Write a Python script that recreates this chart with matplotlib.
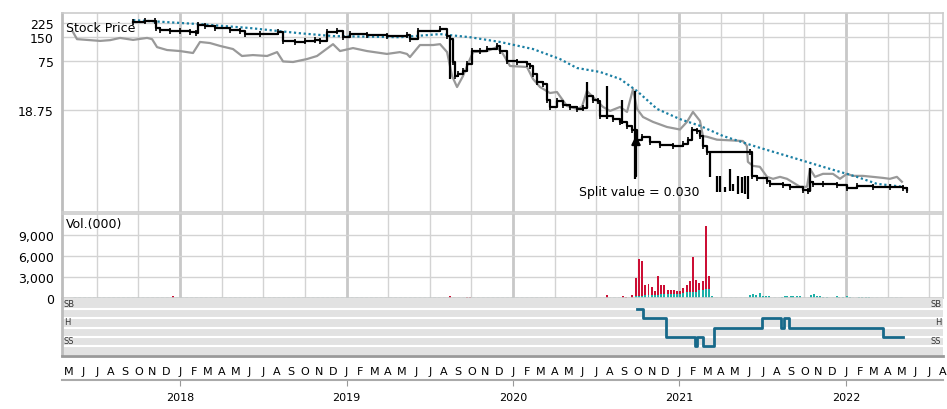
import numpy as np
import matplotlib
matplotlib.use("Agg")
import matplotlib.pyplot as plt
from matplotlib.ticker import NullLocator, FuncFormatter

# x values are decimal years
# black price line (weekly close, step)
price_t = [2017.718, 2017.790, 2017.850, 2017.856, 2017.880, 2017.940, 2018.000, 2018.060, 2018.096,
           2018.108, 2018.150, 2018.210, 2018.300, 2018.360, 2018.390, 2018.480, 2018.589, 2018.619,
           2018.691, 2018.751, 2018.811, 2018.841, 2018.883, 2018.943, 2018.979, 2019.021, 2019.123,
           2019.243, 2019.363, 2019.381, 2019.429, 2019.562, 2019.604, 2019.622, 2019.640, 2019.652,
           2019.670, 2019.700, 2019.724, 2019.754, 2019.802, 2019.844, 2019.904, 2019.922, 2019.964,
           2020.024, 2020.084, 2020.102, 2020.120, 2020.144, 2020.180, 2020.204, 2020.222, 2020.264,
           2020.300, 2020.342, 2020.384, 2020.420, 2020.444, 2020.480, 2020.511, 2020.523, 2020.565,
           2020.601, 2020.643, 2020.685, 2020.715, 2020.745, 2020.775, 2020.823, 2020.883, 2020.961,
           2021.021, 2021.051, 2021.075, 2021.105, 2021.123, 2021.141, 2021.165, 2021.423, 2021.435,
           2021.465, 2021.526, 2021.544, 2021.622, 2021.664, 2021.742, 2021.772, 2021.784, 2021.802,
           2021.862, 2021.946, 2022.006, 2022.066, 2022.162, 2022.264, 2022.342, 2022.366]
price_v = [232, 239, 239, 195, 184, 179, 179, 174, 168,
           212, 206, 195, 184, 179, 164, 164, 174, 135,
           131, 135, 138, 135, 174, 179, 150, 164, 160,
           155, 160, 142, 179, 189, 155, 142, 73.8, 49.5,
           52.8, 57.1, 69.8, 101, 101, 107, 117, 101, 75,
           73.8, 69.8, 65.9, 52.8, 41.7, 39.2, 25.2, 20.4, 24.2,
           21.6, 20.4, 19.3, 19.8, 27.9, 25.2, 24.2, 15.8, 15.8,
           14.4, 13.3, 11.9, 10.7, 8.0, 8.7, 7.5, 6.9, 6.7,
           7.1, 8.0, 10.7, 10.3, 8.9, 6.7, 5.64, 5.64, 2.84,
           2.68, 2.47, 2.26, 2.20, 2.08, 1.91, 1.85, 2.40, 2.26,
           2.26, 2.20, 2.02, 2.14, 2.08, 2.08, 2.02, 1.91]

# high/low spikes
spike_t = [2019.622, 2020.444, 2020.565, 2020.655, 2020.733, 2021.183, 2021.225, 2021.243, 2021.273,
           2021.303, 2021.321, 2021.351, 2021.375, 2021.393, 2021.411, 2021.784]
spike_hi = [142, 41.7, 37.2, 25.2, 32.2, 5.64, 2.84, 2.84, 2.08, 3.47, 2.26, 2.84, 2.76, 2.84, 2.84, 3.57]
spike_lo = [45.5, 19.8, 14.4, 12.4, 2.61, 2.76, 1.80, 1.80, 1.80, 1.85, 1.85, 1.70, 1.75, 1.70, 1.47, 1.85]

# gray comparison line
gray_t = [2017.357, 2017.381, 2017.459, 2017.520, 2017.580, 2017.640, 2017.718, 2017.802, 2017.832,
          2017.862, 2017.922, 2018.000, 2018.078, 2018.120, 2018.180, 2018.240, 2018.318, 2018.372,
          2018.438, 2018.523, 2018.583, 2018.619, 2018.679, 2018.763, 2018.823, 2018.919, 2018.961,
          2019.039, 2019.123, 2019.243, 2019.321, 2019.363, 2019.381, 2019.441, 2019.520, 2019.562,
          2019.604, 2019.634, 2019.664, 2019.700, 2019.724, 2019.760, 2019.844, 2019.904, 2019.940,
          2019.982, 2020.084, 2020.120, 2020.162, 2020.222, 2020.264, 2020.324, 2020.384, 2020.414,
          2020.444, 2020.505, 2020.541, 2020.583, 2020.643, 2020.685, 2020.721, 2020.745, 2020.781,
          2020.841, 2020.925, 2021.003, 2021.045, 2021.081, 2021.123, 2021.141, 2021.165, 2021.225,
          2021.381, 2021.405, 2021.411, 2021.441, 2021.483, 2021.526, 2021.562, 2021.604, 2021.646,
          2021.724, 2021.766, 2021.784, 2021.814, 2021.862, 2021.922, 2021.964, 2022.006, 2022.042,
          2022.102, 2022.162, 2022.222, 2022.264, 2022.306, 2022.336]
gray_v = [174, 142, 138, 135, 138, 147, 139, 147, 142,
          113, 104, 101, 95.5, 131, 127, 117, 107, 87.7,
          90, 87.7, 98, 75, 73.8, 80.4, 87.7, 123, 101,
          110, 101, 93, 98, 93, 85, 120, 120, 123,
          98, 49.5, 36.1, 49.5, 65.9, 98, 101, 113, 93,
          65.9, 64, 45.5, 36.1, 30.4, 31.3, 21, 19.3, 20.4,
          32.2, 24.2, 20.4, 18.2, 20.4, 17.7, 34, 19.3, 15.3,
          13.3, 11.5, 10.7, 13.3, 17.7, 13.7, 8.9, 8.7, 8.0,
          7.7, 6.7, 4.24, 3.78, 3.68, 2.76, 2.61, 2.76, 2.61,
          2.08, 2.08, 3.47, 2.76, 3.01, 3.01, 2.61, 3.01, 2.84,
          2.84, 2.76, 2.68, 2.61, 2.76, 2.40]

# dotted moving average
avg_t = [2017.718, 2018.120, 2018.420, 2018.721, 2018.919, 2019.321, 2019.562, 2019.742, 2019.922,
         2020.120, 2020.282, 2020.384, 2020.523, 2020.643, 2020.745, 2020.865, 2021.003, 2021.123,
         2021.261, 2021.465, 2021.664, 2021.862, 2022.066, 2022.186, 2022.342]
avg_v = [245, 218, 195, 168, 155, 150, 164, 150, 131,
         107, 80.4, 62.2, 55.5, 45.5, 32.2, 19.3, 14.4, 11.9,
         8.9, 6.5, 4.9, 3.68, 2.76, 2.26, 2.08]

# weekly volume (000), stacked: teal below, red on top
vol_t = [2017.958, 2019.622, 2019.724, 2019.743, 2020.563, 2020.659, 2020.677, 2020.713,
         2020.737, 2020.756, 2020.775, 2020.794, 2020.814, 2020.833, 2020.852, 2020.871, 2020.890,
         2020.909, 2020.929, 2020.948, 2020.967, 2020.986, 2021.005, 2021.024, 2021.044, 2021.063,
         2021.082, 2021.101, 2021.120, 2021.139, 2021.159, 2021.178, 2021.197,
         2021.423, 2021.440, 2021.459, 2021.483, 2021.500, 2021.519, 2021.537, 2021.614, 2021.632,
         2021.647, 2021.668, 2021.684, 2021.704, 2021.724, 2021.790, 2021.808, 2021.826, 2021.844,
         2021.862, 2021.884, 2021.944, 2021.960, 2021.984, 2022.004, 2022.024, 2022.080, 2022.098,
         2022.118, 2022.136]
vol_teal = [0, 0, 0, 0, 0, 0, 0, 0,
            240, 285, 285, 380, 380, 380, 480, 480, 520,
            620, 620, 620, 620, 620, 620, 760, 860, 860,
            860, 860, 1100, 1190, 1330, 1330, 290,
            476, 570, 380, 760, 333, 333, 333, 143, 240,
            333, 240, 240, 240, 333, 476, 620, 333, 240,
            190, 143, 285, 190, 190, 285, 143, 190, 190,
            190, 190]
vol_red = [300, 250, 200, 200, 480, 330, 190, 480,
           2660, 5340, 5050, 1520, 1670, 1140, 570, 2710, 1290,
           1280, 570, 570, 570, 430, 330, 670, 1040, 1620,
           5000, 1660, 1040, 1190, 8960, 1810, 0,
           0, 0, 0, 0, 0, 0, 0, 0, 0,
           0, 0, 0, 0, 0, 0, 0, 0, 0,
           0, 0, 0, 0, 0, 0, 0, 0, 0,
           0, 0]

# rating steps (5=SB ... 1=SS)
rate_t = [2020.745, 2020.781, 2020.919, 2021.093, 2021.105, 2021.141, 2021.207, 2021.495,
          2021.610, 2021.628, 2021.658, 2022.222, 2022.342]
rate_v = [5, 4, 2, 1, 2, 1, 3, 4, 3, 4, 3, 2, 2]
rate_names = {5: "SB", 3: "H", 1: "SS"}

price_ticks = [18.75, 75, 150, 225]
vol_ticks = [0, 3000, 6000, 9000]
years = [2018, 2019, 2020, 2021, 2022]
month_letters = "JFMAMJJASOND"

x0, x1 = 2017.291, 2022.583
W, H = 947, 410
grid_c = "#d3d3d3"
teal = "#1cb0a8"
red = "#cc0f35"
blue = "#1a7fa3"
line_blue = "#17698a"

fig = plt.figure(figsize=(W / 100, H / 100), dpi=100)


def box(top, bottom):
    return [62 / W, (H - bottom) / H, 881 / W, (bottom - top) / H]


def vgrid(ax):
    for q in np.arange(2017.5, 2022.6, 0.25):
        if abs(q - round(q)) < 1e-6:
            ax.axvline(q, color="#c8c8c8", lw=2, zorder=0)
        else:
            ax.axvline(q, color=grid_c, lw=1, zorder=0)


def frame(ax):
    for s in ax.spines.values():
        s.set_color("#cccccc")
        s.set_linewidth(1.2)
    ax.spines["left"].set_color("#bdbdbd")
    ax.spines["left"].set_linewidth(2)


# price panel
ax = fig.add_axes(box(14, 213))
ax.set_yscale("log")
ax.set_xlim(x0, x1)
ax.set_ylim(1.01, 300)
vgrid(ax)
for v in price_ticks:
    ax.axhline(v, color=grid_c, lw=1, zorder=0)
ax.plot(gray_t, gray_v, color="#999999", lw=1.6, zorder=2)
ax.plot(avg_t, avg_v, color=blue, lw=1.6, ls=(0, (1, 1.2)), zorder=3)
ax.vlines(spike_t, spike_lo, spike_hi, color="black", lw=1.6, zorder=4)
ax.plot(price_t, price_v, color="black", lw=1.6, drawstyle="steps-post",
        marker="|", ms=4, mew=1.2, zorder=5)
ax.annotate("", xy=(2020.739, 9.8), xytext=(2020.739, 2.6),
            arrowprops=dict(arrowstyle="-|>", color="black", lw=1.6, mutation_scale=13), zorder=6)
ax.text(2020.396, 1.80, "Split value = 0.030", fontsize=9, va="center", ha="left")
ax.text(0.005, 0.96, "Stock Price", transform=ax.transAxes, fontsize=9, va="top", ha="left")
ax.yaxis.set_minor_locator(NullLocator())
ax.set_yticks(price_ticks)
ax.set_yticklabels(["18.75", "75", "150", "225"])
ax.set_xticks([])
ax.tick_params(axis="y", length=0, labelsize=9, pad=6)
frame(ax)

# volume panel
av = fig.add_axes(box(215, 299))
av.set_xlim(x0, x1)
av.set_ylim(0, 12000)
vgrid(av)
for v in vol_ticks[1:]:
    av.axhline(v, color=grid_c, lw=1, zorder=0)
av.hlines(40, 2017.36, 2022.35, color=teal, lw=1, ls=(0, (2, 1.5)), zorder=1)
av.bar(vol_t, vol_teal, width=0.012, color=teal, zorder=2)
av.bar(vol_t, vol_red, width=0.012, bottom=vol_teal, color=red, zorder=2)
av.text(0.005, 0.96, "Vol.(000)", transform=av.transAxes, fontsize=9, va="top", ha="left")
av.set_yticks(vol_ticks)
av.yaxis.set_major_formatter(FuncFormatter(lambda v, p: f"{v:,.0f}"))
av.set_xticks([])
av.tick_params(axis="y", length=0, labelsize=9, pad=6)
frame(av)

# rating panel
ar = fig.add_axes(box(299, 356))
ar.set_xlim(x0, x1)
ar.set_ylim(0.03, 6.19)
ar.set_facecolor("#e2e2e2")
for lv in [1, 2, 3, 4, 5]:
    ar.axhline(lv, color="white", lw=1.5, zorder=1)
ar.plot(rate_t, rate_v, color=line_blue, lw=2, drawstyle="steps-post", zorder=3)
for lv, name in rate_names.items():
    ar.text(0.002, lv + 0.12, name, transform=ar.get_yaxis_transform(), fontsize=6,
            va="bottom", ha="left", color="#333333")
    ar.text(0.998, lv + 0.12, name, transform=ar.get_yaxis_transform(), fontsize=6,
            va="bottom", ha="right", color="#333333")
ar.set_xticks([])
ar.set_yticks([])
for s in ar.spines.values():
    s.set_visible(False)
ar.spines["left"].set_visible(True)
ar.spines["left"].set_color("#bdbdbd")
ar.spines["left"].set_linewidth(2)

# month / year axis
at = fig.add_axes(box(357, 381))
at.set_xlim(x0, x1)
at.set_ylim(0, 1)
for s in ["left", "right"]:
    at.spines[s].set_visible(False)
at.spines["top"].set_color("#999999")
at.spines["top"].set_linewidth(2)
at.spines["bottom"].set_color("#aaaaaa")
at.spines["bottom"].set_linewidth(1.5)
for yr in range(2017, 2023):
    for m in range(12):
        xm = yr + m / 12
        if x0 < xm < x1 + 0.01:
            at.text(xm, 0.38, month_letters[m], ha="center", va="center", fontsize=8,
                    clip_on=False)
at.set_yticks([])
at.set_xticks(years)
at.set_xticklabels([str(y) for y in years], fontsize=8)
at.tick_params(axis="x", length=4, color="#999999", pad=5)

fig.savefig("out.png", dpi=100)
